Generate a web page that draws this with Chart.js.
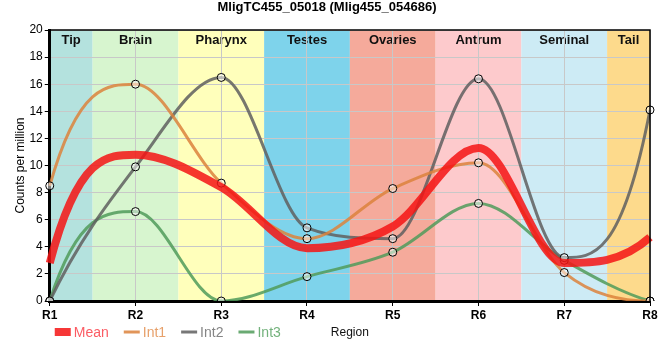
<!DOCTYPE html>
<html>
<head>
<meta charset="utf-8">
<script src="https://cdn.jsdelivr.net/npm/chart.js@4"></script>
<style>
  html, body { margin: 0; padding: 0; background: #fff; }
  #wrap { width: 660px; height: 360px; }
</style>
</head>
<body>
<div id="wrap"><canvas id="geneChart"></canvas></div>
<script>
const regions = ['R1', 'R2', 'R3', 'R4', 'R5', 'R6', 'R7', 'R8'];
const meanVals = [2.8, 10.8, 8.4, 3.9, 5.5, 11.3, 2.8, 4.7];
const int1Vals = [8.5, 16.0, 8.7, 4.6, 8.3, 10.2, 2.1, 0];
const int2Vals = [0, 9.9, 16.5, 5.4, 4.6, 16.4, 3.2, 14.1];
const int3Vals = [0, 6.6, 0, 1.8, 3.6, 7.2, 3.0, 0];
const yTicks = [0, 2, 4, 6, 8, 10, 12, 14, 16, 18, 20];

// one tissue band per region, centred on it
const bandNames = ['Tip', 'Brain', 'Pharynx', 'Testes', 'Ovaries', 'Antrum', 'Seminal', 'Tail'];
const bandColors = ['#b4e2de', '#d7f5cf', '#ffffbb', '#7ed3eb', '#f5aa9b', '#fdcacc', '#cdebf5', '#fdda8c'];

const FONT = "'Liberation Sans', Arial, sans-serif";

const clamp = (v, lo, hi) => Math.min(hi, Math.max(lo, v));

// monotone curve, but the end segments mirror the inner control point
// (steep start/finish like the original plot)
const endTangentPlugin = {
  id: 'endTangents',
  beforeDatasetDraw(chart, args) {
    const meta = args.meta;
    const line = meta.dataset;
    const pts = meta.data;
    if (!line || pts.length < 3) return;
    line.updateControlPoints(chart.chartArea, meta.iScale.axis);
    const a = chart.chartArea;
    const first = pts[0], second = pts[1];
    first.cp2x = 2 * second.cp1x - second.x;
    first.cp2y = clamp(2 * second.cp1y - second.y, a.top, a.bottom);
    const last = pts[pts.length - 1], prev = pts[pts.length - 2];
    last.cp1x = 2 * prev.cp2x - prev.x;
    last.cp1y = clamp(2 * prev.cp2y - prev.y, a.top, a.bottom);
    delete line._path;
  },
};

const bandsPlugin = {
  id: 'bands',
  beforeDraw(chart) {
    const { ctx, chartArea: a, scales: { x } } = chart;
    ctx.save();
    bandNames.forEach((name, i) => {
      const left = Math.max(a.left, x.getPixelForValue(i - 0.5));
      const right = Math.min(a.right, x.getPixelForValue(i + 0.5));
      ctx.fillStyle = bandColors[i];
      ctx.fillRect(left, a.top, right - left, a.bottom - a.top);
      ctx.fillStyle = '#111';
      ctx.font = 'bold 13px ' + FONT;
      ctx.textAlign = 'center';
      ctx.textBaseline = 'middle';
      ctx.fillText(name, (left + right) / 2, a.top + 10);
    });
    ctx.restore();
  },
  afterDraw(chart) {
    const { ctx, chartArea: a } = chart;
    ctx.save();
    ctx.strokeStyle = '#000';
    ctx.lineWidth = 1.5;
    ctx.beginPath();
    ctx.moveTo(a.left, a.top);
    ctx.lineTo(a.right, a.top);
    ctx.lineTo(a.right, a.bottom);
    ctx.stroke();

    // legend + axis title share one row under the tick labels
    const rowY = a.bottom + 31;
    ctx.font = '14px ' + FONT;
    ctx.textBaseline = 'middle';
    ctx.textAlign = 'left';
    let lx = a.left + 5;
    chart.data.datasets.forEach((ds) => {
      ctx.strokeStyle = ds.borderColor;
      ctx.lineWidth = ds.borderWidth;
      ctx.beginPath();
      ctx.moveTo(lx, rowY);
      ctx.lineTo(lx + 16, rowY);
      ctx.stroke();
      ctx.fillStyle = ds.legendText;
      ctx.fillText(ds.label, lx + 19, rowY + 1);
      lx += 19 + ctx.measureText(ds.label).width + 15;
    });
    ctx.fillStyle = '#111';
    ctx.font = '12px ' + FONT;
    ctx.textAlign = 'center';
    ctx.fillText('Region', (a.left + a.right) / 2, rowY + 1);
    ctx.restore();
  },
};

function intSeries(label, data, color, textColor) {
  return {
    label,
    data,
    legendText: textColor,
    borderColor: color,
    backgroundColor: color,
    borderWidth: 3,
    cubicInterpolationMode: 'monotone',
    pointRadius: 4,
    pointBackgroundColor: 'rgba(255,255,255,0.5)',
    pointBorderColor: '#000',
    pointBorderWidth: 1,
    fill: false,
  };
}

function initChart() {
  const ctx = document.getElementById('geneChart');
  return new Chart(ctx, {
    type: 'line',
    data: {
      labels: regions,
      datasets: [
        {
          label: 'Mean',
          data: meanVals,
          legendText: 'rgba(250,50,60,0.8)',
          borderColor: 'rgba(245,20,20,0.85)',
          backgroundColor: 'rgba(245,20,20,0.85)',
          borderWidth: 8,
          cubicInterpolationMode: 'monotone',
          pointRadius: 0,
          fill: false,
        },
        intSeries('Int1', int1Vals, 'rgba(220,130,60,0.85)', 'rgba(228,150,90,0.9)'),
        intSeries('Int2', int2Vals, 'rgba(95,95,95,0.85)', 'rgba(120,120,120,0.9)'),
        intSeries('Int3', int3Vals, 'rgba(80,155,90,0.85)', 'rgba(100,170,110,0.9)'),
      ],
    },
    options: {
      responsive: true,
      maintainAspectRatio: false,
      animation: false,
      layout: { padding: { left: 4, right: 10, top: 0, bottom: 35.6 } },
      plugins: {
        title: {
          display: true,
          text: 'MligTC455_05018 (Mlig455_054686)',
          color: '#000',
          font: { family: FONT, size: 13, weight: 'bold' },
          padding: { top: 0, bottom: 14.4 },
        },
        legend: { display: false },
        tooltip: { enabled: false },
      },
      scales: {
        x: {
          offset: false,
          grid: { color: '#c8c8c8', tickLength: 5, tickColor: '#000' },
          border: { color: '#000', width: 3 },
          ticks: { color: '#000', font: { family: FONT, size: 12, weight: 'bold' }, padding: 2 },
        },
        y: {
          min: 0,
          max: 20,
          afterBuildTicks(axis) {
            axis.ticks = yTicks.map((v) => ({ value: v }));
          },
          grid: { color: '#c8c8c8', tickLength: 5, tickColor: '#000' },
          border: { color: '#000', width: 3 },
          ticks: { color: '#000', font: { family: FONT, size: 12 }, padding: 2 },
          title: {
            display: true,
            text: 'Counts per million',
            color: '#000',
            font: { family: FONT, size: 12 },
            padding: { top: 9, bottom: 0 },
          },
        },
      },
    },
    plugins: [bandsPlugin, endTangentPlugin],
  });
}

document.addEventListener('DOMContentLoaded', () => {
  initChart();
});
</script>
</body>
</html>
